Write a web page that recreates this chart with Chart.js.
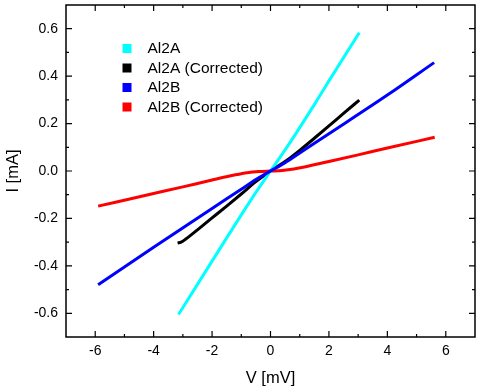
<!DOCTYPE html>
<html>
<head>
<meta charset="utf-8">
<script src="https://cdn.jsdelivr.net/npm/chart.js@4"></script>
<style>
    html, body { margin: 0; padding: 0; background: #fff; }
    #wrap { width: 477px; height: 392px; position: relative; }
</style>
</head>
<body>
<div id="wrap"><canvas id="chart"></canvas></div>
<script>
// values
const al2aV = [-3.15, -2.5, -2.0, -1.5, -1.0, -0.5, 0.0, 0.5, 1.0, 1.5, 2.0, 2.5, 3.04];
const al2aI = [-0.605, -0.478, -0.38, -0.282, -0.185, -0.09, 0.0, 0.089, 0.183, 0.28, 0.38, 0.478, 0.583];

const al2aCorrV = [-3.18, -3.06, -2.9, -2.5, -2.0, -1.5, -1.0, -0.5, 0.0, 0.5, 1.0, 1.5, 2.0, 2.5, 3.04];
const al2aCorrI = [-0.304, -0.3, -0.287, -0.248, -0.198, -0.148, -0.097, -0.045, 0.0, 0.04, 0.087, 0.138, 0.19, 0.243, 0.299];

const al2bV = [-5.9, -4.0, -2.0, -1.0, -0.5, 0.0, 0.5, 1.0, 2.0, 4.0, 5.6];
const al2bI = [-0.48, -0.322, -0.158, -0.077, -0.036, 0.0, 0.035, 0.076, 0.157, 0.32, 0.457];

const al2bCorrV = [-5.9, -4.0, -3.0, -2.0, -1.2, -0.8, -0.4, 0.0, 0.4, 0.8, 1.2, 2.0, 3.0, 4.0, 5.62];
const al2bCorrI = [-0.148, -0.095, -0.067, -0.038, -0.016, -0.007, -0.002, 0.0, 0.002, 0.008, 0.018, 0.04, 0.068, 0.097, 0.142];

const seriesNames = ["Al2A", "Al2A (Corrected)", "Al2B", "Al2B (Corrected)"];
const seriesColors = ["#00FFFF", "#000000", "#0000FF", "#FF0000"];
const seriesOrder = [1, 3, 0, 2]; // lower draws on top

const xTicks = [-6, -4, -2, 0, 2, 4, 6];
const xMinorTicks = [-5, -3, -1, 1, 3, 5];
const yTicks = [-0.6, -0.4, -0.2, 0.0, 0.2, 0.4, 0.6];
const yMinorTicks = [-0.5, -0.3, -0.1, 0.1, 0.3, 0.5];

function toPoints(xs, ys) {
    return xs.map((x, i) => ({ x: x, y: ys[i] }));
}

const seriesData = [
    toPoints(al2aV, al2aI),
    toPoints(al2aCorrV, al2aCorrI),
    toPoints(al2bV, al2bI),
    toPoints(al2bCorrV, al2bCorrI)
];

// frame with inward ticks on all four sides
const frameTicks = {
    id: "frameTicks",
    afterDatasetsDraw(chart) {
        const ctx = chart.ctx;
        const a = chart.chartArea;
        const xs = chart.scales.x;
        const ys = chart.scales.y;
        ctx.save();
        ctx.strokeStyle = "#000";
        ctx.lineWidth = 1.5;
        ctx.strokeRect(a.left, a.top, a.right - a.left, a.bottom - a.top);
        ctx.lineWidth = 1.2;
        ctx.beginPath();
        const tick = (vals, len) => {
            vals.forEach(v => {
                const px = xs.getPixelForValue(v);
                ctx.moveTo(px, a.bottom); ctx.lineTo(px, a.bottom - len);
                ctx.moveTo(px, a.top); ctx.lineTo(px, a.top + len);
            });
        };
        tick(xTicks, 6);
        tick(xMinorTicks, 3);
        const ytick = (vals, len) => {
            vals.forEach(v => {
                const py = ys.getPixelForValue(v);
                ctx.moveTo(a.left, py); ctx.lineTo(a.left + len, py);
                ctx.moveTo(a.right, py); ctx.lineTo(a.right - len, py);
            });
        };
        ytick(yTicks, 6);
        ytick(yMinorTicks, 3);
        ctx.stroke();
        ctx.restore();
    }
};

// legend inside the plot, top left
const innerLegend = {
    id: "innerLegend",
    afterDatasetsDraw(chart) {
        const ctx = chart.ctx;
        ctx.save();
        ctx.font = "15.5px 'Liberation Sans', Arial, sans-serif";
        ctx.textBaseline = "middle";
        chart.data.datasets.forEach((ds, i) => {
            const y = 48.5 + i * 19.5;
            ctx.fillStyle = ds.borderColor;
            ctx.fillRect(122.5, y - 4.5, 9, 9);
            ctx.fillStyle = "#000";
            ctx.fillText(ds.label, 147.5, y + 0.5);
        });
        ctx.restore();
    }
};

Chart.defaults.font.family = "'Liberation Sans', Arial, sans-serif";
Chart.defaults.font.size = 14;
Chart.defaults.color = "#000";

new Chart(document.getElementById("chart").getContext("2d"), {
    type: "scatter",
    data: {
        datasets: seriesData.map((pts, i) => ({
            label: seriesNames[i],
            data: pts,
            order: seriesOrder[i],
            showLine: true,
            borderColor: seriesColors[i],
            backgroundColor: seriesColors[i],
            borderWidth: 3,
            pointRadius: 0,
            cubicInterpolationMode: "monotone"
        }))
    },
    options: {
        responsive: true,
        maintainAspectRatio: false,
        animation: false,
        layout: { padding: { top: 5, right: 2, left: 0, bottom: 0 } },
        plugins: {
            legend: { display: false },
            tooltip: { enabled: false }
        },
        scales: {
            x: {
                type: "linear",
                min: -7,
                max: 7,
                afterBuildTicks: s => { s.ticks = xTicks.map(v => ({ value: v })); },
                afterFit: s => {
                    s.height = 55;
                    s.paddingLeft = 0;
                    s.paddingRight = 0;
                },
                grid: { display: false, drawTicks: false },
                border: { display: false },
                ticks: { padding: 6, font: { size: 14 }, color: "#000" },
                title: {
                    display: true,
                    text: "V [mV]",
                    font: { size: 16.5 },
                    padding: { top: 4 }
                }
            },
            y: {
                type: "linear",
                min: -0.7,
                max: 0.7,
                afterBuildTicks: s => { s.ticks = yTicks.map(v => ({ value: v })); },
                afterFit: s => {
                    s.width = 66;
                    s.paddingTop = 0;
                    s.paddingBottom = 0;
                },
                grid: { display: false, drawTicks: false },
                border: { display: false },
                ticks: {
                    padding: 8,
                    font: { size: 14 },
                    color: "#000",
                    callback: v => Number(v).toFixed(1)
                },
                title: {
                    display: true,
                    text: "I [mA]",
                    font: { size: 16.5 },
                    padding: { bottom: 0 }
                }
            }
        }
    },
    plugins: [frameTicks, innerLegend]
});
</script>
</body>
</html>
